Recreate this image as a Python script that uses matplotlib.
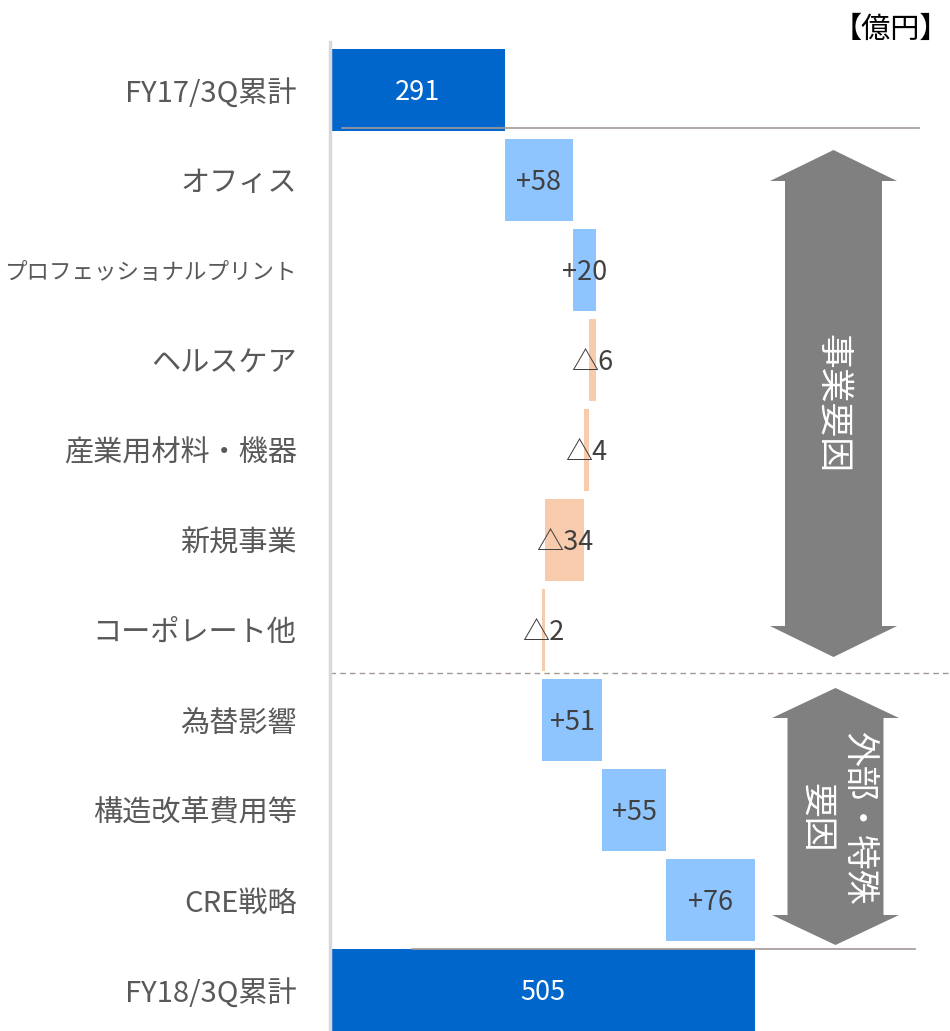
import matplotlib
matplotlib.use('Agg')
import matplotlib.pyplot as plt
from matplotlib.patches import Polygon

plt.rcParams['font.family'] = ['Noto Sans CJK JP', 'DejaVu Sans']

# 営業利益の増減要因（億円）
categories = ['FY17/3Q累計', 'オフィス', 'プロフェッショナルプリント', 'ヘルスケア',
              '産業用材料・機器', '新規事業', 'コーポレート他', '為替影響',
              '構造改革費用等', 'CRE戦略', 'FY18/3Q累計']
totals = [291, 505]
deltas = [58, 20, -6, -4, -34, -2, 51, 55, 76]

DARK_BLUE = '#0066CC'
LIGHT_BLUE = '#8EC5FF'
SALMON = '#F8CBAD'
ARROW_GRAY = '#808080'
LINE_GRAY = '#A39A98'

W, H = 950, 1031
fig = plt.figure(figsize=(W / 100, H / 100), dpi=100)
ax = fig.add_axes([330 / W, 0, 620 / W, 1])
x0 = 141.2
ax.set_xlim(x0, 672)
ax.set_ylim(10.456, -1.0)

bar_h = 0.91
n = len(categories)
num_dy = 0.03  # 数字を少し下げて見た目の中心に合わせる

# 起点と終点
ax.barh(0, totals[0], height=bar_h, color=DARK_BLUE, zorder=2)
ax.barh(n - 1, totals[1], height=bar_h, color=DARK_BLUE, zorder=2)
ax.text((totals[0] + x0) / 2, num_dy, f'{totals[0]}', ha='center', va='center',
        color='white', fontsize=19.5)
ax.text((totals[1] + x0) / 2, n - 1 + num_dy, f'{totals[1]}', ha='center',
        va='center', color='white', fontsize=19.5)

# 増減バー
level = totals[0]
for i, d in enumerate(deltas, start=1):
    left = level if d > 0 else level + d
    ax.barh(i, abs(d), left=left, height=bar_h,
            color=LIGHT_BLUE if d > 0 else SALMON, zorder=2)
    label = f'+{d}' if d > 0 else f'△{abs(d)}'
    ax.text(left + abs(d) / 2, i + num_dy, label, ha='center', va='center',
            color='#404040', fontsize=19.5, zorder=3)
    level += d

# 区切り線
ax.axhline(0.42, xmin=12 / 620, xmax=589 / 620, color=LINE_GRAY, lw=1.2, zorder=3)
ax.axhline(9.55, xmin=82 / 620, xmax=585 / 620, color=LINE_GRAY, lw=1.2, zorder=3)
ax.axhline(6.48, color=LINE_GRAY, lw=1.0, ls=(0, (4, 3)), zorder=1)
ax.axvline(x0, ymin=0, ymax=(H - 42) / H, color='#D9D9D9', lw=2.5,
           clip_on=False, zorder=4)

for s in ax.spines.values():
    s.set_visible(False)
ax.set_xticks([])
ax.set_yticks(range(n))
ax.set_yticklabels(categories, fontsize=21, color='#595959')
ax.tick_params(axis='y', length=0, pad=24)

# 長いラベルは幅に合わせて縮める
fig.canvas.draw()
renderer = fig.canvas.get_renderer()
for lab in ax.get_yticklabels():
    w = lab.get_window_extent(renderer).width
    if w > 292:
        lab.set_fontsize(21 * 292 / w)

fig.text(949 / W, 1 - 30 / H, '【億円】', ha='right', va='center',
         fontsize=21, color='black')


def double_arrow(cx, top, bottom, shaft_w, head_w, head_len):
    pts = [
        (cx, top),
        (cx + head_w / 2, top + head_len),
        (cx + shaft_w / 2, top + head_len),
        (cx + shaft_w / 2, bottom - head_len),
        (cx + head_w / 2, bottom - head_len),
        (cx, bottom),
        (cx - head_w / 2, bottom - head_len),
        (cx - shaft_w / 2, bottom - head_len),
        (cx - shaft_w / 2, top + head_len),
        (cx - head_w / 2, top + head_len),
    ]
    pts = [(x / W, 1 - y / H) for x, y in pts]
    fig.add_artist(Polygon(pts, closed=True, facecolor=ARROW_GRAY,
                           edgecolor='none', transform=fig.transFigure))


double_arrow(833.5, 150, 657, 97, 127, 31)
double_arrow(835.5, 688, 945, 96, 127, 30)

fig.text(832 / W, 1 - 403 / H, '事業要因', rotation=-90, ha='center', va='center',
         color='white', fontsize=25)
fig.text(837 / W, 1 - 818 / H, '外部・特殊\n要因', rotation=-90, ha='center',
         va='center', multialignment='center', linespacing=1.25,
         color='white', fontsize=25)

fig.savefig('out.png', dpi=100)
